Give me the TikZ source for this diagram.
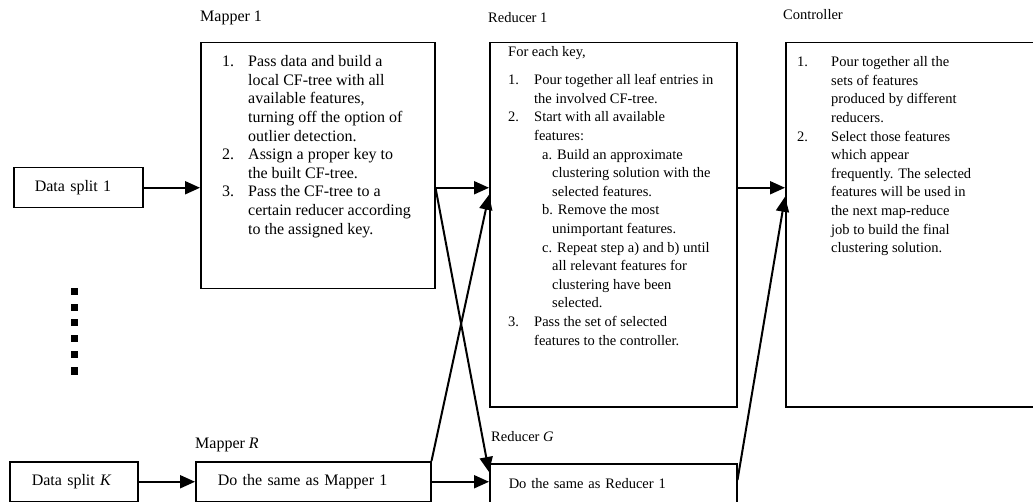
\documentclass[tikz,border=0pt]{standalone}
\usepackage{fontspec}
\setmainfont{Liberation Serif}
\usetikzlibrary{arrows.meta,calc}
\newcommand{\leftfont}{\fontsize{16}{18.6}\selectfont}
\newcommand{\rightfont}{\fontsize{14.5}{18.6}\selectfont}
\begin{document}
\begin{tikzpicture}[x=1pt,y=-1pt,
  box/.style={draw, line width=1.5pt, inner sep=0pt, anchor=north west},
  onebox/.style={box, minimum height=40pt, align=left},
  txt/.style={inner sep=0pt, anchor=north west},
  lbl/.style={inner sep=0pt, anchor=west},
  flow/.style={line width=2pt, -{Triangle[length=15pt,width=13pt]}}]
\useasboundingbox (0,0) rectangle (1033,502);
\clip (0,0) rectangle (1033,502);
% boxes
\node[onebox, inner xsep=21pt, text width=87pt, font=\leftfont] (split1) at (13,167) {Data split 1};
\node[onebox, inner xsep=22pt, text width=84pt, font=\leftfont] (splitK) at (9,461) {Data split \textit{K}};
\node[box, minimum width=234pt, minimum height=246pt] (mapA) at (200,42) {};
\node[onebox, inner xsep=22pt, text width=191pt, font=\leftfont] (mapR) at (195,461) {Do the same as Mapper 1};
\node[box, minimum width=247pt, minimum height=364pt] (redA) at (489,42) {};
\node[onebox, inner xsep=19pt, text width=209pt, font=\rightfont] (redG) at (489,463) {Do the same as Reducer 1};
\node[box, minimum width=260pt, minimum height=364pt] (ctrl) at (785,42) {};
% labels
\node[lbl, font=\leftfont] (mapAlbl) at (200,18) {Mapper 1};
\node[lbl, font=\leftfont] (mapRlbl) at (195,445) {Mapper \textit{R}};
\node[lbl, font=\rightfont] (redAlbl) at (488,18) {Reducer 1};
\node[lbl, font=\rightfont] (redGlbl) at (491,437) {Reducer \textit{G}};
\node[lbl, font=\rightfont] (ctrllbl) at (783,15) {Controller};
% texts
\node[txt, font=\leftfont] (mapAtxt) at (222,53.5) {\begin{tabular}{@{}p{26pt}@{}l@{}}
1. & Pass data and build a\\
   & local CF-tree with all\\
   & available features,\\
   & turning off the option of\\
   & outlier detection.\\
2. & Assign a proper key to\\
   & the built CF-tree.\\
3. & Pass the CF-tree to a\\
   & certain reducer according\\
   & to the assigned key.
\end{tabular}};
\node[txt, font=\rightfont] (redAtxt) at (508,43.5) {\begin{tabular}{@{}p{26pt}@{}l@{}}
\multicolumn{2}{@{}l@{}}{For each key,}\\[9.4pt]
1. & Pour together all leaf entries in\\
   & the involved CF-tree.\\
2. & Start with all available\\
   & features:\\
   & \hspace{8pt}a. Build an approximate\\
   & \hspace{18pt}clustering solution with the\\
   & \hspace{18pt}selected features.\\
   & \hspace{8pt}b. Remove the most\\
   & \hspace{18pt}unimportant features.\\
   & \hspace{8pt}c. Repeat step a) and b) until\\
   & \hspace{18pt}all relevant features for\\
   & \hspace{18pt}clustering have been\\
   & \hspace{18pt}selected.\\
3. & Pass the set of selected\\
   & features to the controller.
\end{tabular}};
\node[txt, font=\rightfont] (ctrltxt) at (797,53.5) {\begin{tabular}{@{}p{34pt}@{}l@{}}
1. & Pour together all the\\
   & sets of features\\
   & produced by different\\
   & reducers.\\
2. & Select those features\\
   & which appear\\
   & frequently. The selected\\
   & features will be used in\\
   & the next map-reduce\\
   & job to build the final\\
   & clustering solution.
\end{tabular}};
% dots
\foreach \y in {292,308,323,339,355,371}
  \fill (70.5,\y-3.5) rectangle (77.5,\y+3.5);
% arrows
\draw[flow] (split1) -- (mapA.west |- split1);
\draw[flow] (mapA.east |- split1) -- (redA.west |- split1);
\draw[flow] (mapA.east |- split1) -- ($(redG.north west)+(0,9)$);
\draw[flow] (mapR.north east) -- ($(redA.west |- split1)+(0,7)$);
\draw[flow] (redA.east |- split1) -- (ctrl.west |- split1);
\draw[flow] ($(redG.north east)+(0,17)$) -- ($(ctrl.west |- split1)+(0,9)$);
\draw[flow] (splitK) -- (mapR);
\draw[flow] (mapR) -- (redG.west |- mapR);
\end{tikzpicture}
\end{document}
